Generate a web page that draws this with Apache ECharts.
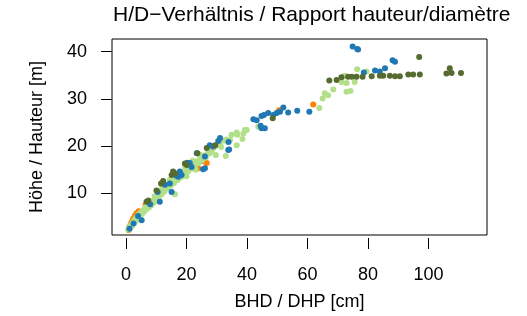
<!DOCTYPE html>
<html>
<head>
<meta charset="utf-8">
<script src="https://cdn.jsdelivr.net/npm/echarts@6/dist/echarts.min.js"></script>
<style>
html,body{margin:0;padding:0;background:#fff;}
#J_Main{width:527px;height:316px;}
</style>
</head>
<body>
<div id="J_Main"></div>
<script>
// [BHD cm, Höhe m] per group
var orangePts=[[0.9,2.2],[1.1,2.9],[1.6,3.5],[1.9,4.0],[2.4,4.6],[3.0,5.3],[3.5,5.8],[4.2,6.2],[6.5,7.6],[23.9,15.3],[26.7,16.4],[25.5,16.8],[50.6,27.6],[61.9,28.8]];
var lightGreenPts=[[0.8,2.3],[1.0,2.6],[1.2,3.0],[1.5,2.8],[1.8,3.4],[2.0,3.1],[2.2,3.8],[2.5,4.0],[2.8,3.7],[3.0,4.5],[3.3,4.2],[3.6,5.0],[4.0,4.8],[4.2,5.5],[4.6,5.2],[5.0,6.0],[5.3,5.6],[5.7,6.4],[6.0,6.1],[6.4,7.0],[6.8,6.6],[7.2,7.4],[7.6,7.0],[8.0,7.9],[8.4,7.5],[8.8,8.4],[9.2,8.0],[9.6,8.9],[10.0,8.5],[10.4,9.6],[10.9,9.2],[11.3,10.2],[11.8,9.8],[12.2,10.8],[12.7,10.4],[13.2,11.4],[13.7,11.0],[14.2,12.0],[14.8,11.6],[15.3,12.6],[15.9,12.2],[16.2,9.8],[16.5,13.2],[17.1,12.8],[17.6,13.8],[18.2,13.4],[18.8,14.4],[19.3,14.0],[19.9,15.0],[20.5,14.6],[21.0,15.6],[21.6,15.2],[22.2,16.2],[22.8,15.8],[23.4,16.8],[24.0,16.4],[24.6,17.4],[25.2,17.0],[25.8,18.0],[26.4,17.6],[27.0,18.4],[27.7,18.5],[28.3,19.0],[29.0,19.6],[29.7,18.1],[30.3,20.2],[31.0,20.6],[31.5,19.8],[32.5,21.2],[33.0,17.9],[33.8,21.0],[34.4,21.3],[34.9,22.4],[33.3,21.4],[36.6,20.2],[36.6,22.9],[36.8,22.4],[38.5,21.5],[38.8,22.7],[39.3,23.4],[39.9,23.4],[43.7,24.1],[9.5,9.4],[12.0,11.2],[14.5,12.8],[17.0,14.2],[19.5,15.6],[22.0,16.9],[24.5,18.2],[7.0,8.0],[20.0,13.6],[23.0,15.0],[63.9,28.1],[65.0,30.1],[65.7,31.2],[66.8,30.8],[68.5,32.0],[71.2,33.6],[72.9,33.4],[75.6,33.6],[72.9,31.5],[74.2,31.7],[71.8,34.7],[72.3,34.9],[76.4,36.3],[79.5,35.8]];
var bluePts=[[1.2,2.5],[2.5,3.6],[4.0,5.2],[5.2,4.3],[8.0,7.7],[10.5,10.3],[11.2,8.2],[12.9,11.8],[14.5,12.1],[15.1,10.3],[16.7,13.7],[17.3,13.5],[17.8,14.6],[18.4,13.9],[20.3,16.5],[21.1,16.4],[21.7,15.6],[23.4,18.5],[25.5,15.1],[26.1,15.3],[26.1,17.8],[27.7,20.2],[28.8,19.9],[30.5,21.1],[31.1,21.7],[33.8,19.2],[33.9,20.9],[34.1,19.3],[42.1,25.7],[43.2,25.5],[44.8,26.4],[45.6,26.6],[47.0,27.0],[48.7,26.6],[49.8,27.0],[50.9,27.3],[52.0,28.2],[53.6,27.1],[56.6,27.5],[60.6,27.3],[44.5,24.3],[44.8,23.8],[45.9,23.8],[74.9,41.1],[76.4,40.6],[76.7,40.5],[78.6,35.6],[82.3,36.0],[83.9,35.8],[85.6,36.5],[88.1,38.2],[88.9,37.9]];
var darkGreenPts=[[6.8,8.2],[7.4,8.5],[10.1,10.6],[11.6,12.1],[12.3,12.6],[15.1,13.9],[15.6,14.6],[16.2,14.2],[19.5,16.3],[20.1,16.0],[23.6,18.5],[26.7,19.6],[29.5,20.2],[48.5,25.9],[67.2,33.9],[69.6,34.0],[71.2,34.6],[73.4,34.7],[74.6,34.7],[76.2,34.7],[78.2,34.7],[81.2,34.8],[83.9,34.9],[85.0,34.9],[87.2,34.9],[88.9,34.8],[90.5,34.8],[93.3,35.2],[94.9,35.2],[97.1,35.2],[96.9,38.9],[105.9,35.4],[107.0,36.5],[107.6,35.5],[110.7,35.5]];

var xTicks=[0,20,40,60,80,100];
var yTicks=[10,20,30,40];

var myChart=echarts.init(document.getElementById("J_Main"),null,{renderer:"canvas"});
var font="Liberation Sans";
function sc(name,data,color){
    return {name:name,type:"scatter",data:data,symbol:"circle",symbolSize:6,
        itemStyle:{color:color,opacity:1},silent:true,animation:false};
}
var option={
    backgroundColor:"#fff",
    animation:false,
    title:{
        text:"H/D\u2212Verhältnis / Rapport hauteur/diamètre",
        left:113,top:5,padding:0,
        textStyle:{fontFamily:font,fontSize:21,fontWeight:"normal",color:"#000"}
    },
    grid:{left:112,right:40,top:39,bottom:81,show:true,borderColor:"#000",borderWidth:1,backgroundColor:"transparent"},
    xAxis:{
        type:"value",min:-4.6,max:119.3,offset:3,
        name:"BHD / DHP [cm]",nameLocation:"middle",nameGap:55,
        nameTextStyle:{fontFamily:font,fontSize:18,color:"#000"},
        axisLine:{show:false,onZero:false},
        axisTick:{show:true,inside:false,length:11,customValues:xTicks,lineStyle:{color:"#000",width:1}},
        axisLabel:{customValues:xTicks,margin:28,fontFamily:font,fontSize:18,color:"#000"},
        splitLine:{show:false}
    },
    yAxis:{
        type:"value",min:1.17,max:42.7,
        name:"Höhe / Hauteur [m]",nameLocation:"middle",nameGap:66,
        nameTextStyle:{fontFamily:font,fontSize:18,color:"#000"},
        axisLine:{show:false,onZero:false},
        axisTick:{show:true,inside:false,length:11,customValues:yTicks,lineStyle:{color:"#000",width:1}},
        axisLabel:{customValues:yTicks,margin:25,fontFamily:font,fontSize:18,color:"#000"},
        splitLine:{show:false}
    },
    series:[
        sc("orange",orangePts,"#FF7F00"),
        sc("lightgreen",lightGreenPts,"#B2DF8A"),
        sc("blue",bluePts,"#1F78B4"),
        sc("darkgreen",darkGreenPts,"#556B2F")
    ]
};
myChart.setOption(option);
</script>
</body>
</html>
